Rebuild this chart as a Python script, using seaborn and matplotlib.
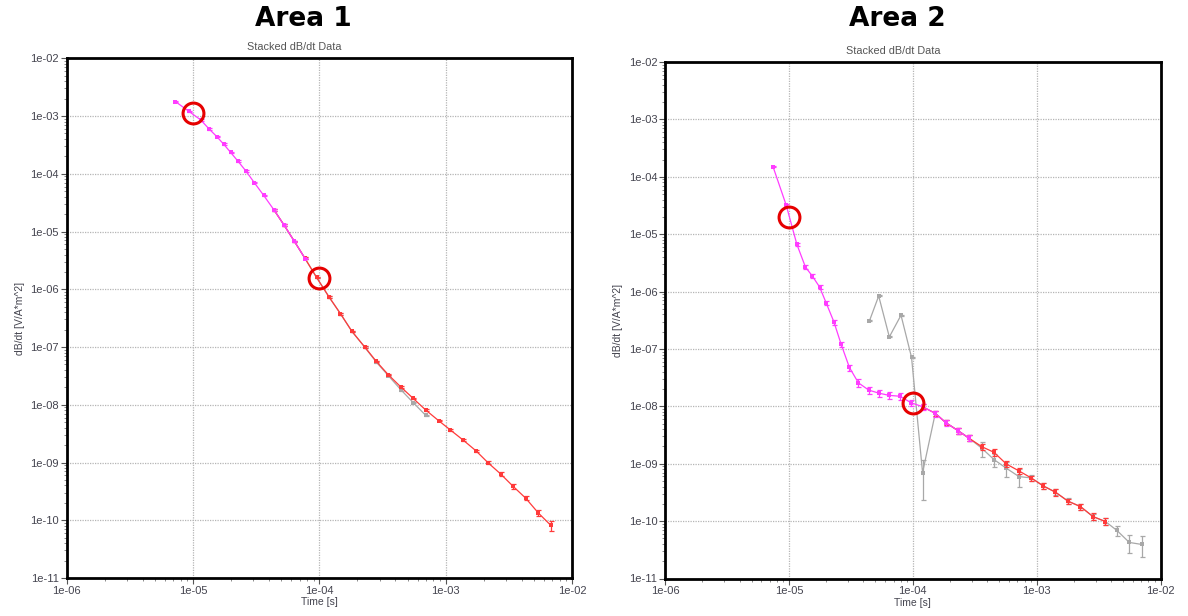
import numpy as np
import pandas as pd
import matplotlib
matplotlib.use("Agg")
import matplotlib.pyplot as plt
import seaborn as sns
from matplotlib.ticker import FixedLocator, FuncFormatter, NullFormatter

# ---------------- data ----------------
# Area 1
a1_mag_t = [7.26e-6, 9.3e-6, 1.15e-5, 1.34e-5, 1.54e-5, 1.75e-5, 1.98e-5, 2.27e-5, 2.62e-5,
            3.05e-5, 3.63e-5, 4.39e-5, 5.26e-5, 6.35e-5, 7.72e-5]
a1_mag_v = [1.78e-3, 1.20e-3, 8.57e-4, 5.98e-4, 4.42e-4, 3.25e-4, 2.36e-4, 1.65e-4, 1.12e-4,
            7.06e-5, 4.21e-5, 2.34e-5, 1.29e-5, 6.74e-6, 3.4e-6]
a1_mag_e = [0.03] * 15

a1_red_t = [4.39e-5, 5.26e-5, 6.35e-5, 7.67e-5, 9.5e-5, 1.19e-4, 1.47e-4, 1.81e-4, 2.28e-4,
            2.82e-4, 3.51e-4, 4.42e-4, 5.53e-4, 6.94e-4, 8.79e-4, 1.09e-3, 1.38e-3, 1.74e-3,
            2.16e-3, 2.72e-3, 3.41e-3, 4.30e-3, 5.41e-3, 6.78e-3]
a1_red_v = [2.34e-5, 1.29e-5, 6.74e-6, 3.47e-6, 1.61e-6, 7.42e-7, 3.77e-7, 1.87e-7, 1.01e-7,
            5.66e-8, 3.32e-8, 2.03e-8, 1.29e-8, 8.13e-9, 5.31e-9, 3.66e-9, 2.43e-9, 1.59e-9,
            9.95e-10, 6.35e-10, 3.89e-10, 2.41e-10, 1.34e-10, 8.2e-11]
a1_red_e = [0.03, 0.03, 0.03, 0.03, 0.03, 0.03, 0.03, 0.03, 0.03, 0.03, 0.03, 0.03, 0.03,
            0.03, 0.03, 0.03, 0.04, 0.05, 0.06, 0.07, 0.09, 0.08, 0.11, 0.2]

a1_gray_t = [4.39e-5, 5.26e-5, 6.35e-5, 7.67e-5, 9.5e-5, 1.19e-4, 1.47e-4, 1.81e-4, 2.28e-4,
             2.82e-4, 3.51e-4, 4.42e-4, 5.53e-4, 6.94e-4]
a1_gray_v = [2.34e-5, 1.29e-5, 6.74e-6, 3.47e-6, 1.61e-6, 7.42e-7, 3.77e-7, 1.87e-7, 1.0e-7,
             5.5e-8, 3.2e-8, 1.82e-8, 1.09e-8, 6.58e-9]
a1_gray_e = [0.03] * 14

a1_circ_t = [1.0e-5, 1.0e-4]
a1_circ_v = [1.15e-3, 1.56e-6]

# Area 2
a2_mag_t = [7.44e-6, 9.53e-6, 1.16e-5, 1.36e-5, 1.55e-5, 1.77e-5, 2.0e-5, 2.31e-5, 2.64e-5,
            3.08e-5, 3.64e-5, 4.41e-5, 5.31e-5, 6.47e-5, 7.89e-5, 9.66e-5, 1.2e-4, 1.52e-4,
            1.85e-4, 2.32e-4, 2.85e-4]
a2_mag_v = [1.51e-4, 3.17e-5, 6.65e-6, 2.68e-6, 1.85e-6, 1.20e-6, 6.34e-7, 2.96e-7, 1.21e-7,
            4.76e-8, 2.57e-8, 1.92e-8, 1.70e-8, 1.55e-8, 1.50e-8, 1.16e-8, 9.84e-9, 7.55e-9,
            5.19e-9, 3.77e-9, 2.78e-9]
a2_mag_e = [0.03, 0.04, 0.06, 0.08, 0.08, 0.08, 0.08, 0.1, 0.1, 0.12, 0.15, 0.14, 0.14, 0.14,
            0.14, 0.13, 0.12, 0.12, 0.12, 0.12, 0.12]

a2_red_t = [1.2e-4, 1.52e-4, 1.85e-4, 2.32e-4, 2.85e-4, 3.61e-4, 4.53e-4, 5.69e-4, 7.2e-4,
            9.04e-4, 1.13e-3, 1.42e-3, 1.79e-3, 2.26e-3, 2.85e-3, 3.59e-3]
a2_red_v = [9.84e-9, 7.55e-9, 5.19e-9, 3.77e-9, 2.78e-9, 1.98e-9, 1.58e-9, 9.9e-10, 7.5e-10,
            5.66e-10, 4.11e-10, 3.19e-10, 2.23e-10, 1.79e-10, 1.20e-10, 9.84e-11]
a2_red_e = [0.1, 0.1, 0.1, 0.12, 0.12, 0.12, 0.12, 0.13, 0.13, 0.1, 0.12, 0.14, 0.1, 0.12,
            0.14, 0.14]

a2_gray_t = [4.47e-5, 5.31e-5, 6.47e-5, 8.04e-5, 9.78e-5, 1.2e-4, 1.52e-4, 1.85e-4, 2.32e-4,
             2.85e-4, 3.61e-4, 4.53e-4, 5.69e-4, 7.2e-4, 9.04e-4, 1.13e-3, 1.42e-3, 1.79e-3,
             2.26e-3, 2.85e-3, 3.59e-3, 4.45e-3, 5.6e-3, 7.06e-3]
a2_gray_v = [3.08e-7, 8.37e-7, 1.62e-7, 3.87e-7, 7.11e-8, 7.0e-10, 7.55e-9, 5.19e-9, 3.77e-9,
             2.78e-9, 1.86e-9, 1.18e-9, 8.35e-10, 5.97e-10, 5.66e-10, 4.11e-10, 3.19e-10,
             2.23e-10, 1.79e-10, 1.20e-10, 9.84e-11, 6.87e-11, 4.25e-11, 3.92e-11]
a2_gray_e = [0.02, 0.02, 0.02, 0.02, 0.02, 0.67, 0.1, 0.1, 0.12, 0.12, 0.3, 0.25, 0.3, 0.35,
             0.12, 0.12, 0.12, 0.12, 0.12, 0.12, 0.14, 0.2, 0.35, 0.4]

a2_circ_t = [1.0e-5, 1.0e-4]
a2_circ_v = [1.98e-5, 1.13e-8]

y_ticks = [1e-2, 1e-3, 1e-4, 1e-5, 1e-6, 1e-7, 1e-8, 1e-9, 1e-10, 1e-11]
x_ticks = [1e-6, 1e-5, 1e-4, 1e-3, 1e-2]

MAGENTA = "#ff3cff"
RED = "#ff3a3a"
GRAY = "#a8a8a8"
CIRCLE = "#e60000"
TXT = "#44444f"

# ---------------- figure ----------------
sns.set_theme(style="white")
plt.rcParams['font.family'] = ['Liberation Sans', 'DejaVu Sans']

fig = plt.figure(figsize=(11.88, 6.16), dpi=100)
ax1 = fig.add_axes([66.7 / 1188, 38.0 / 616, 505.3 / 1188, 519.7 / 616])
ax2 = fig.add_axes([665.0 / 1188, 37.5 / 616, 495.5 / 1188, 516.5 / 616])


def draw_series(ax, t, v, rel, color, z):
    df = pd.DataFrame({"t": t, "v": v})
    err = np.asarray(v) * np.asarray(rel)
    ax.errorbar(t, v, yerr=err, fmt="none", ecolor=color, elinewidth=0.9,
                capsize=1.8, capthick=0.9, zorder=z)
    sns.lineplot(data=df, x="t", y="v", ax=ax, color=color, lw=0.9, marker="s",
                 markersize=2.6, markeredgewidth=0, estimator=None, sort=False, zorder=z)


def style_axes(ax):
    ax.set_xscale("log")
    ax.set_yscale("log")
    ax.set_xlim(1e-6, 1e-2)
    ax.set_ylim(1e-11, 1e-2)
    ax.xaxis.set_major_locator(FixedLocator(x_ticks))
    ax.yaxis.set_major_locator(FixedLocator(y_ticks))
    fmt = FuncFormatter(lambda val, pos: f"{val:.0e}")
    ax.xaxis.set_major_formatter(fmt)
    ax.yaxis.set_major_formatter(fmt)
    xminor = [m * 10.0 ** e for e in range(-6, -2) for m in range(2, 10)]
    yminor = [m * 10.0 ** e for e in range(-11, -2) for m in range(2, 10)]
    ax.xaxis.set_minor_locator(FixedLocator(xminor))
    ax.yaxis.set_minor_locator(FixedLocator(yminor))
    ax.xaxis.set_minor_formatter(NullFormatter())
    ax.yaxis.set_minor_formatter(NullFormatter())
    ax.tick_params(axis="both", which="major", direction="out", length=4, width=0.8,
                   color="#555555", labelsize=8, labelcolor=TXT, pad=1.5)
    ax.tick_params(axis="both", which="minor", direction="out", length=2, width=0.6,
                   color="#777777")
    ax.tick_params(bottom=True, left=True, which="both")
    ax.grid(True, which="major", linestyle=(0, (1, 1)), color="#b5b5b5", linewidth=0.9)
    for s in ax.spines.values():
        s.set_color("black")
        s.set_linewidth(2.0)
    ax.set_xlabel("Time [s]", fontsize=7.5, color=TXT, labelpad=1)
    ax.set_ylabel("dB/dt [V/A*m^2]", fontsize=7.5, color=TXT, labelpad=4)


for ax in (ax1, ax2):
    style_axes(ax)

# Area 1
draw_series(ax1, a1_gray_t, a1_gray_v, a1_gray_e, GRAY, 2)
draw_series(ax1, a1_red_t, a1_red_v, a1_red_e, RED, 3)
draw_series(ax1, a1_mag_t, a1_mag_v, a1_mag_e, MAGENTA, 4)
ax1.plot(a1_circ_t, a1_circ_v, "o", ms=15, mfc="none", mec=CIRCLE, mew=2.2, zorder=6)

# Area 2
draw_series(ax2, a2_gray_t, a2_gray_v, a2_gray_e, GRAY, 2)
draw_series(ax2, a2_red_t, a2_red_v, a2_red_e, RED, 3)
draw_series(ax2, a2_mag_t, a2_mag_v, a2_mag_e, MAGENTA, 4)
ax2.plot(a2_circ_t, a2_circ_v, "o", ms=15, mfc="none", mec=CIRCLE, mew=2.2, zorder=6)

# titles
fig.text(303 / 1188, 1 - 19 / 616, "Area 1", ha="center", va="center", fontsize=19,
         fontweight="bold", family="DejaVu Sans", color="black")
fig.text(897 / 1188, 1 - 19 / 616, "Area 2", ha="center", va="center", fontsize=19,
         fontweight="bold", family="DejaVu Sans", color="black")
fig.text(294 / 1188, 1 - 47.5 / 616, "Stacked dB/dt Data", ha="center", va="center",
         fontsize=7.8, color="#555555")
fig.text(893 / 1188, 1 - 51 / 616, "Stacked dB/dt Data", ha="center", va="center",
         fontsize=7.8, color="#555555")

fig.savefig("out.png", dpi=100)
